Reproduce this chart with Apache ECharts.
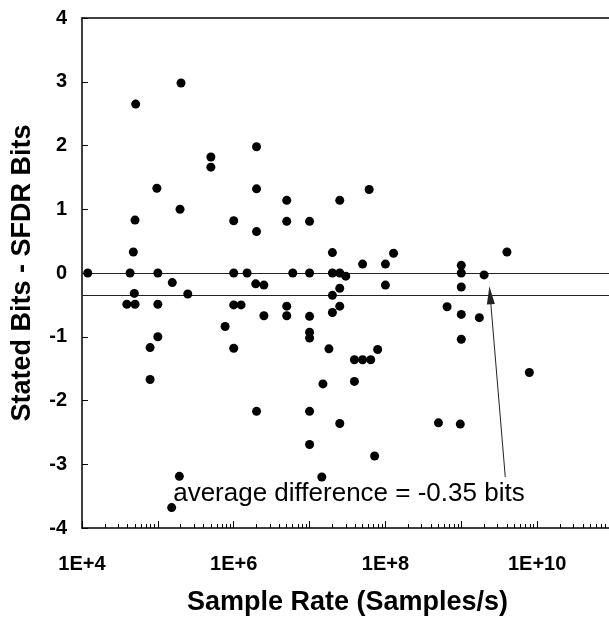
<!DOCTYPE html>
<html>
<head>
<meta charset="utf-8">
<script src="https://cdn.jsdelivr.net/npm/echarts@6/dist/echarts.min.js"></script>
<style>
  html, body { margin: 0; padding: 0; background: #fff; }
  #chart { width: 609px; height: 623px; }
</style>
</head>
<body>
<div id="chart"></div>
<script>
// Sample rate (Samples/s) of each converter
const sampleRate = [
  2.02e5, 5.1e4, 9.7e4, 1.96e5, 2.0e6, 5.0e5, 5.0e5, 2.0e6, 5.0e6, 2.5e7,
  6.1e7, 5.0e4, 4.75e4, 1.19e4, 4.3e4, 1.0e5, 1.55e5, 4.9e4, 2.48e5, 3.9e4,
  5.0e4, 1.0e5, 1.0e5, 7.9e4, 7.9e4, 1.0e6, 5.0e6, 1.0e7, 2.0e6, 2.0e7,
  5.0e7, 1.28e8, 1.0e8, 1.0e6, 1.5e6, 6.0e6, 1.0e7, 2.0e7, 2.5e7, 3.0e7,
  1.95e6, 2.5e6, 2.5e7, 1.0e8, 2.0e7, 1.0e6, 1.25e6, 5.0e6, 2.5e7, 2.0e7,
  2.5e6, 5.0e6, 1.0e7, 7.7e5, 1.0e7, 1.0e7, 1.0e6, 1.8e7, 7.9e7, 3.9e7,
  5.0e7, 6.4e7, 3.9e7, 1.5e7, 2.0e6, 1.0e7, 2.5e7, 1.0e7, 7.2e7, 1.45e7,
  1.92e5, 1.52e5, 5.0e8, 9.7e8, 4.0e9, 1.0e9, 1.0e9, 2.0e9, 1.0e9, 6.5e8,
  1.0e9, 1.73e9, 1.0e9, 7.9e9
];

// Stated bits minus SFDR bits for the same converters
const bitDifference = [
  2.98, 2.65, 1.33, 1.00, 1.98, 1.82, 1.66, 1.32, 1.14, 1.14,
  1.31, 0.83, 0.33, 0.00, 0.00, 0.00, -0.15, -0.32, -0.33, -0.49,
  -0.49, -0.49, -1.00, -1.17, -1.67, 0.82, 0.81, 0.81, 0.65, 0.32,
  0.14, 0.31, 0.14, 0.00, 0.00, 0.00, 0.00, 0.00, 0.00, -0.05,
  -0.17, -0.19, -0.24, -0.19, -0.35, -0.50, -0.50, -0.52, -0.52, -0.62,
  -0.67, -0.67, -0.68, -0.84, -0.93, -1.02, -1.18, -1.19, -1.20, -1.36,
  -1.36, -1.36, -1.70, -1.74, -2.17, -2.17, -2.36, -2.69, -2.87, -3.20,
  -3.19, -3.68, -2.35, -2.37, 0.33, 0.12, 0.00, -0.03, -0.22, -0.53,
  -0.65, -0.70, -1.04, -1.56
];

// Reference lines and the annotation
const zeroLevel = 0;
const averageDifference = -0.35;
const annotationText = 'average difference = -0.35 bits';
const annotationAnchor = [3.3e7, -3.46];
const arrowTail = [3.8e9, -3.2];
const arrowHead = [2.4e9, averageDifference];

// Axis ranges and labels
const xRange = [1e4, 1e11];
const labelledExponents = [4, 6, 8, 10];
const yRange = [-4, 4];
const yStep = 1;

// Minor tick positions: 2..9 within every decade
const minorTickValues = [];
for (let e = 4; e < 11; e++) {
  for (let m = 2; m <= 9; m++) minorTickValues.push(m * Math.pow(10, e));
}

const FONT = '"Liberation Sans", Arial, Helvetica, sans-serif';

const chart = echarts.init(document.getElementById('chart'), null, { renderer: 'canvas' });

const points = sampleRate.map((r, i) => [r, bitDifference[i]]);

chart.setOption({
  animation: false,
  backgroundColor: '#ffffff',
  grid: { left: 82, top: 18, width: 531, bottom: 95, containLabel: false, outerBoundsMode: 'none' },
  xAxis: [
    {
      type: 'log', logBase: 10, min: xRange[0], max: xRange[1], interval: 1,
      position: 'bottom',
      name: 'Sample Rate (Samples/s)',
      nameLocation: 'middle', nameGap: 61,
      nameTextStyle: { fontFamily: FONT, fontWeight: 'bold', fontSize: 27, color: '#000' },
      axisLine: { show: true, onZero: false, lineStyle: { color: '#000', width: 1.5 } },
      axisTick: { show: true, inside: true, length: 7, lineStyle: { color: '#000', width: 1 } },
      axisLabel: {
        show: true, margin: 26, fontFamily: FONT, fontWeight: 'bold', fontSize: 20, color: '#000',
        formatter: function (v) {
          const e = Math.round(Math.log10(v));
          return labelledExponents.indexOf(e) >= 0 ? '1E+' + e : '';
        }
      },
      splitLine: { show: false }
    },
    {
      type: 'log', logBase: 10, min: xRange[0], max: xRange[1],
      position: 'bottom',
      axisLine: { show: false, onZero: false },
      axisTick: { show: true, inside: true, length: 4, customValues: minorTickValues, lineStyle: { color: '#000', width: 1 } },
      axisLabel: { show: false },
      splitLine: { show: false }
    },
    {
      type: 'log', logBase: 10, min: xRange[0], max: xRange[1],
      position: 'top',
      axisLine: { show: true, onZero: false, lineStyle: { color: '#000', width: 1.5 } },
      axisTick: { show: false },
      axisLabel: { show: false },
      splitLine: { show: false }
    }
  ],
  yAxis: {
    type: 'value', min: yRange[0], max: yRange[1], interval: yStep,
    name: 'Stated Bits - SFDR Bits',
    nameLocation: 'middle', nameGap: 46, nameRotate: 90,
    nameTextStyle: { fontFamily: FONT, fontWeight: 'bold', fontSize: 27, color: '#000' },
    axisLine: { show: true, onZero: false, lineStyle: { color: '#000', width: 1.5 } },
    axisTick: { show: true, inside: true, length: 6, lineStyle: { color: '#000', width: 1 } },
    axisLabel: { margin: 15, fontFamily: FONT, fontWeight: 'bold', fontSize: 20, color: '#000' },
    splitLine: { show: false }
  },
  series: [
    {
      type: 'scatter',
      xAxisIndex: 0,
      data: points,
      symbol: 'circle',
      symbolSize: 9,
      itemStyle: { color: '#000', opacity: 1 },
      z: 5,
      markLine: {
        silent: true,
        symbol: ['none', 'none'],
        label: { show: false },
        lineStyle: { color: '#222', width: 1, type: 'solid' },
        data: [
          { yAxis: zeroLevel },
          { yAxis: averageDifference },
          [
            { coord: arrowTail, symbol: 'none' },
            { coord: arrowHead, symbol: 'triangle', symbolSize: [8, 18] }
          ]
        ]
      },
      markPoint: {
        silent: true,
        symbol: 'circle',
        symbolSize: 1,
        itemStyle: { color: 'rgba(0,0,0,0)' },
        label: {
          show: true, position: 'inside', formatter: annotationText,
          fontFamily: FONT, fontSize: 26, color: '#000'
        },
        data: [{ coord: annotationAnchor }]
      }
    }
  ]
});
</script>
</body>
</html>
